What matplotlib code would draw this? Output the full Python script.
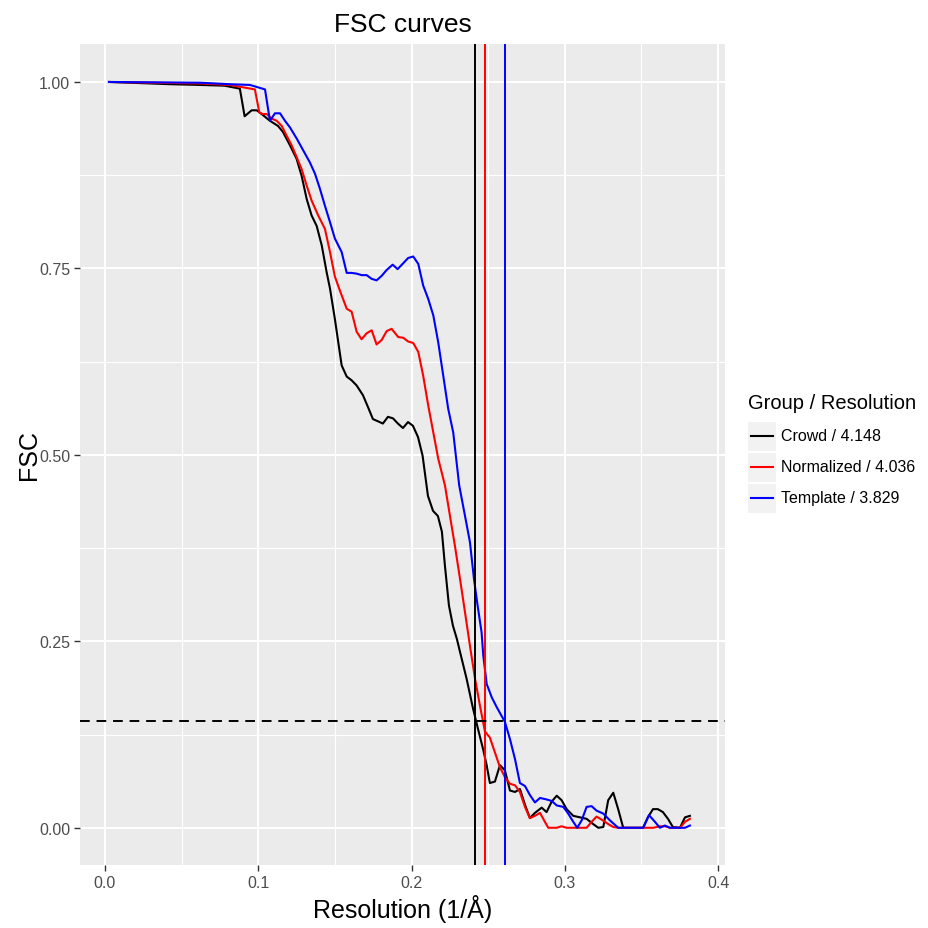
import matplotlib
matplotlib.use("Agg")
import matplotlib.pyplot as plt
from matplotlib.lines import Line2D
from matplotlib.patches import Rectangle

plt.rcParams['font.family'] = ['Liberation Sans', 'DejaVu Sans']

# groups and their resolution (Angstrom)
groups = ["Crowd", "Normalized", "Template"]
resolutions = [4.148, 4.036, 3.829]
colors = ["black", "red", "blue"]
fsc_cutoff = 0.143

# Crowd curve
crowd_x = [0.0026, 0.0424, 0.062, 0.078, 0.088, 0.0911, 0.0957, 0.099, 0.1022, 0.1076,
           0.1129, 0.1161, 0.1207, 0.125, 0.1283, 0.1316, 0.1348, 0.1381, 0.1414, 0.1446,
           0.1468, 0.15, 0.1544, 0.1577, 0.1609, 0.1642, 0.1683, 0.1716, 0.1748, 0.1781,
           0.1813, 0.1846, 0.1879, 0.1911, 0.1944, 0.1977, 0.2009, 0.2042, 0.2072, 0.2107,
           0.214, 0.2172, 0.2198, 0.2218, 0.2244, 0.227, 0.2296, 0.2316, 0.2359, 0.2401,
           0.2433, 0.2466, 0.249, 0.2511, 0.2544, 0.2577, 0.2609, 0.2642, 0.2675, 0.2707,
           0.274, 0.2772, 0.2805, 0.2849, 0.2881, 0.2914, 0.2947, 0.2979, 0.3012, 0.3055,
           0.3099, 0.3142, 0.3185, 0.3218, 0.3251, 0.3283, 0.3316, 0.3348, 0.3381, 0.351,
           0.3542, 0.3575, 0.3607, 0.364, 0.3673, 0.3705, 0.3751, 0.3784, 0.3816]
crowd_y = [1.000, 0.997, 0.996, 0.995, 0.991, 0.954, 0.962, 0.962, 0.957, 0.948,
           0.941, 0.933, 0.915, 0.897, 0.874, 0.843, 0.821, 0.807, 0.781, 0.745,
           0.723, 0.682, 0.620, 0.605, 0.600, 0.593, 0.580, 0.564, 0.548, 0.545,
           0.542, 0.551, 0.549, 0.542, 0.536, 0.544, 0.539, 0.524, 0.499, 0.445,
           0.425, 0.418, 0.397, 0.351, 0.298, 0.271, 0.253, 0.236, 0.200, 0.160,
           0.133, 0.106, 0.084, 0.060, 0.062, 0.084, 0.077, 0.050, 0.048, 0.052,
           0.031, 0.013, 0.020, 0.027, 0.021, 0.035, 0.043, 0.037, 0.025, 0.016,
           0.014, 0.012, 0.005, 0.000, 0.001, 0.037, 0.047, 0.025, 0.000, 0.000,
           0.014, 0.025, 0.025, 0.021, 0.012, 0.001, 0.000, 0.014, 0.016]

# Normalized curve
norm_x = [0.0026, 0.062, 0.0815, 0.0978, 0.1007, 0.1031, 0.1055, 0.1087, 0.112, 0.1153,
          0.1185, 0.1218, 0.1251, 0.1283, 0.1316, 0.1348, 0.1391, 0.1435, 0.1468, 0.15,
          0.1533, 0.1577, 0.1609, 0.1642, 0.1674, 0.1707, 0.174, 0.1772, 0.1805, 0.1838,
          0.187, 0.1913, 0.1946, 0.1978, 0.2011, 0.2044, 0.2076, 0.2109, 0.2142, 0.2174,
          0.2218, 0.225, 0.2283, 0.2316, 0.2348, 0.2381, 0.2414, 0.2446, 0.2479, 0.2511,
          0.2544, 0.2577, 0.2609, 0.2642, 0.2675, 0.2707, 0.274, 0.2772, 0.2805, 0.2838,
          0.287, 0.2892, 0.2947, 0.2979, 0.3012, 0.3142, 0.3175, 0.3207, 0.324, 0.3283,
          0.3316, 0.3348, 0.3577, 0.362, 0.3653, 0.3686, 0.3751, 0.3784, 0.3816]
norm_y = [1.000, 0.998, 0.996, 0.990, 0.959, 0.957, 0.957, 0.951, 0.948, 0.941,
          0.928, 0.915, 0.899, 0.883, 0.861, 0.841, 0.821, 0.803, 0.772, 0.739,
          0.720, 0.696, 0.692, 0.665, 0.655, 0.663, 0.667, 0.648, 0.654, 0.666,
          0.669, 0.658, 0.657, 0.652, 0.650, 0.638, 0.606, 0.566, 0.530, 0.495,
          0.459, 0.419, 0.378, 0.334, 0.290, 0.244, 0.200, 0.164, 0.129, 0.121,
          0.101, 0.081, 0.068, 0.059, 0.057, 0.048, 0.028, 0.013, 0.016, 0.020,
          0.008, 0.000, 0.000, 0.002, 0.000, 0.000, 0.008, 0.015, 0.011, 0.005,
          0.001, 0.000, 0.000, 0.002, 0.002, 0.000, 0.000, 0.008, 0.012]

# Template curve
templ_x = [0.0026, 0.062, 0.0815, 0.0946, 0.1044, 0.1076, 0.1109, 0.1142, 0.1174, 0.1207,
           0.1251, 0.1294, 0.1337, 0.137, 0.1402, 0.1435, 0.1468, 0.15, 0.1544, 0.1577,
           0.1609, 0.1642, 0.1674, 0.1707, 0.174, 0.1772, 0.1805, 0.1838, 0.1877, 0.1909,
           0.1946, 0.1978, 0.2011, 0.2044, 0.2076, 0.2109, 0.2142, 0.2174, 0.2207, 0.2239,
           0.2272, 0.2311, 0.2348, 0.2381, 0.2407, 0.2431, 0.2457, 0.2468, 0.249, 0.2523,
           0.2555, 0.2609, 0.2642, 0.2675, 0.2707, 0.274, 0.2772, 0.2805, 0.2838, 0.2881,
           0.2914, 0.2947, 0.299, 0.3022, 0.3055, 0.3081, 0.311, 0.3142, 0.3175, 0.3207,
           0.3251, 0.3294, 0.3348, 0.3512, 0.3549, 0.3588, 0.362, 0.3653, 0.3686, 0.3784,
           0.3816]
templ_y = [1.000, 0.999, 0.997, 0.996, 0.990, 0.948, 0.958, 0.958, 0.948, 0.939,
           0.924, 0.908, 0.892, 0.877, 0.857, 0.834, 0.812, 0.790, 0.772, 0.744,
           0.744, 0.743, 0.741, 0.741, 0.736, 0.734, 0.740, 0.748, 0.755, 0.749,
           0.757, 0.764, 0.766, 0.756, 0.727, 0.709, 0.687, 0.651, 0.606, 0.562,
           0.530, 0.459, 0.419, 0.383, 0.334, 0.298, 0.262, 0.231, 0.193, 0.175,
           0.162, 0.142, 0.119, 0.092, 0.060, 0.056, 0.044, 0.034, 0.040, 0.038,
           0.036, 0.030, 0.028, 0.019, 0.008, 0.000, 0.010, 0.028, 0.029, 0.023,
           0.019, 0.010, 0.000, 0.000, 0.017, 0.008, 0.000, 0.003, 0.000, 0.000,
           0.003]

x_ticks = [0.0, 0.1, 0.2, 0.3, 0.4]
y_ticks = [0.00, 0.25, 0.50, 0.75, 1.00]

fig = plt.figure(figsize=(9.29, 9.29), dpi=100)
ax = fig.add_axes([80 / 929, 1 - 866 / 929, 645 / 929, 821 / 929])
ax.set_facecolor("#EBEBEB")
for s in ax.spines.values():
    s.set_visible(False)

ax.set_xlim(-0.0163, 0.4045)
ax.set_ylim(-0.0499, 1.0509)
ax.set_xticks(x_ticks)
ax.set_xticklabels([f"{t:.1f}" for t in x_ticks])
ax.set_yticks(y_ticks)
ax.set_yticklabels([f"{t:.2f}" for t in y_ticks])
ax.set_xticks([0.05, 0.15, 0.25, 0.35], minor=True)
ax.set_yticks([0.125, 0.375, 0.625, 0.875], minor=True)
ax.grid(which="major", color="white", linewidth=1.5)
ax.grid(which="minor", color="white", linewidth=0.8)
ax.set_axisbelow(True)
ax.tick_params(which="major", length=4, width=1.0, color="#333333",
               labelsize=11.5, labelcolor="#4D4D4D", pad=3)
ax.tick_params(which="minor", length=0)

curves = [(crowd_x, crowd_y), (norm_x, norm_y), (templ_x, templ_y)]
for (cx, cy), c in zip(curves, colors):
    ax.plot(cx, cy, color=c, linewidth=1.5)

for r, c in zip(resolutions, colors):
    ax.axvline(1 / r, color=c, linewidth=1.4)

ax.axhline(fsc_cutoff, color="black", linewidth=1.4, linestyle=(0, (5, 3.5)))

ax.set_title("FSC curves", fontsize=19, pad=9)
ax.set_xlabel("Resolution (1/Å)", fontsize=18, labelpad=3)
ax.set_ylabel("FSC", fontsize=18, labelpad=-1)

# legend drawn by hand (ggplot style keys)
fig.text(748 / 929, 1 - 404 / 929, "Group / Resolution", fontsize=14.5,
         ha="left", va="center")
row_h = 31
top = 421.5
for i, (g, r, c) in enumerate(zip(groups, resolutions, colors)):
    y0 = top + i * row_h
    fig.patches.append(Rectangle((748 / 929, 1 - (y0 + row_h - 1) / 929),
                                 28 / 929, (row_h - 2) / 929,
                                 transform=fig.transFigure, facecolor="#F2F2F2",
                                 edgecolor="none"))
    yc = 1 - (y0 + row_h / 2) / 929
    fig.lines.append(Line2D([751 / 929, 773 / 929], [yc, yc], color=c,
                            linewidth=1.5, transform=fig.transFigure))
    fig.text(781 / 929, yc, f"{g} / {r}", fontsize=11.5, ha="left", va="center")

fig.savefig("out.png", dpi=100)
